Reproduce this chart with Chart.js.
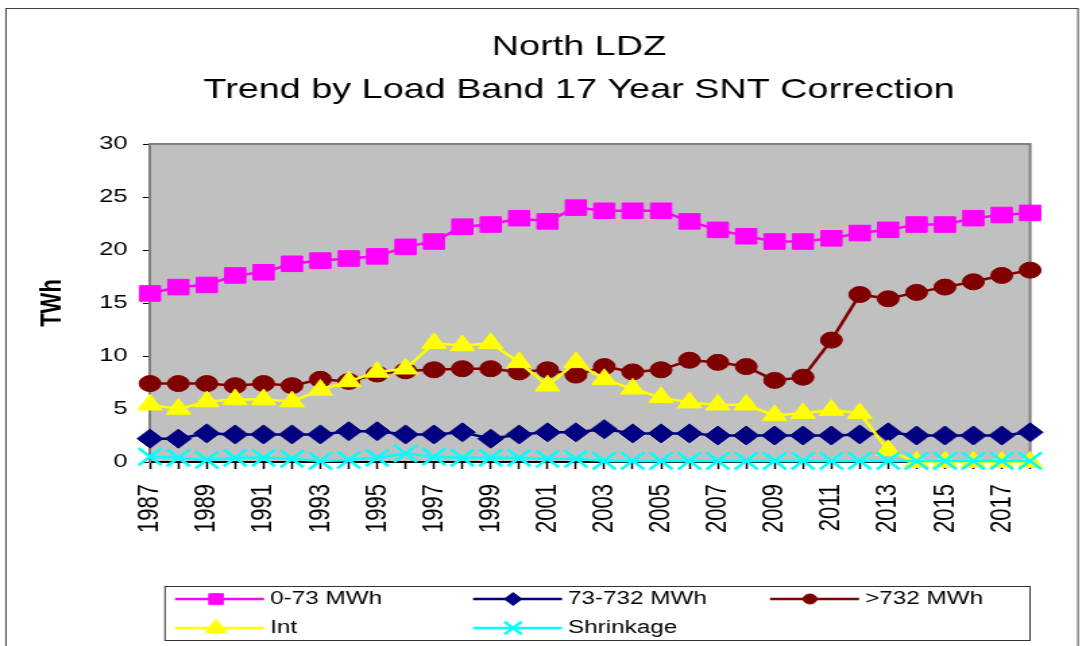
<!DOCTYPE html>
<html>
<head>
<meta charset="utf-8">
<script src="https://cdn.jsdelivr.net/npm/chart.js@4.4.1/dist/chart.umd.min.js"></script>
<style>
html, body { margin: 0; padding: 0; background: #fff; overflow: hidden; }
#c { display: block; }
</style>
</head>
<body>
<canvas id="c" width="805" height="646" style="width:1086px;height:646px;"></canvas>
<script>
// ---- data ----
const years = [1987,1988,1989,1990,1991,1992,1993,1994,1995,1996,1997,1998,1999,2000,2001,2002,
               2003,2004,2005,2006,2007,2008,2009,2010,2011,2012,2013,2014,2015,2016,2017,2018];
const yearTickLabels = ['1987','','1989','','1991','','1993','','1995','','1997','','1999','','2001','',
                        '2003','','2005','','2007','','2009','','2011','','2013','','2015','','2017',''];
const band0to73 = [15.9,16.5,16.7,17.6,17.9,18.7,19.0,19.2,19.4,20.3,20.8,22.2,22.4,23.0,22.7,24.0,
                   23.7,23.7,23.7,22.7,21.9,21.3,20.8,20.8,21.1,21.6,21.9,22.4,22.4,23.0,23.3,23.5];
const band73to732 = [2.2,2.2,2.7,2.6,2.6,2.6,2.6,2.9,2.9,2.6,2.6,2.8,2.2,2.6,2.8,2.8,
                     3.1,2.7,2.7,2.7,2.5,2.5,2.5,2.5,2.5,2.6,2.8,2.5,2.5,2.5,2.5,2.8];
const bandOver732 = [7.4,7.4,7.4,7.2,7.4,7.2,7.8,7.6,8.3,8.6,8.7,8.8,8.8,8.5,8.7,8.2,
                     9.0,8.5,8.7,9.6,9.4,9.0,7.7,8.0,11.5,15.8,15.4,16.0,16.5,17.0,17.6,18.1];
const intBand = [5.4,5.0,5.7,5.9,5.9,5.7,6.8,7.6,8.5,8.8,11.2,11.0,11.2,9.4,7.2,9.4,
                 7.8,6.9,6.1,5.6,5.4,5.4,4.4,4.6,4.9,4.6,1.1,0,0,0,0,0];
const shrinkage = [0.5,0.4,0.2,0.4,0.4,0.3,0.1,0.2,0.4,0.8,0.5,0.4,0.4,0.4,0.3,0.3,
                   0.1,0.1,0.1,0.1,0.1,0.1,0.1,0.1,0.1,0.1,0.1,0.1,0.1,0.1,0.1,0.1];
const yTicks = { min: 0, max: 30, step: 5 };
const titleLines = ['North LDZ', 'Trend by Load Band 17 Year SNT Correction'];
const yTitle = 'TWh';

// ---- layout helpers (canvas is stretched horizontally to 1086 px on screen) ----
const S = 1086 / 805;
const X = v => v / S;
const FONT = '"Liberation Sans", Arial, Helvetica, sans-serif';

const plotFrame = {
  id: 'plotFrame',
  beforeDraw(chart) {
    const { ctx, chartArea: a } = chart;
    ctx.save();
    ctx.strokeStyle = '#404040';
    ctx.lineWidth = 1;
    ctx.strokeRect(X(6), 8.5, X(1078) - X(6), 700);
    ctx.fillStyle = '#C0C0C0';
    ctx.fillRect(a.left, a.top, a.right - a.left, a.bottom - a.top);
    ctx.strokeStyle = '#808080';
    ctx.lineWidth = 2;
    ctx.beginPath();
    ctx.moveTo(a.left, a.top);
    ctx.lineTo(a.right, a.top);
    ctx.lineTo(a.right, a.bottom);
    ctx.stroke();
    ctx.restore();
  }
};

const chartTitle = {
  id: 'chartTitle',
  afterDraw(chart, args, o) {
    const ctx = chart.ctx;
    ctx.save();
    ctx.fillStyle = '#000';
    ctx.font = o.size + 'px ' + FONT;
    ctx.textAlign = 'center';
    ctx.textBaseline = 'middle';
    o.lines.forEach((t, i) => ctx.fillText(t, o.x, o.y + i * o.lineGap));
    ctx.restore();
  }
};

const lineLegend = {
  id: 'lineLegend',
  afterDraw(chart, args, o) {
    const ctx = chart.ctx;
    ctx.save();
    ctx.strokeStyle = '#333';
    ctx.lineWidth = 1;
    ctx.strokeRect(o.left, o.top, o.right - o.left, o.bottom - o.top);
    ctx.font = '18px ' + FONT;
    ctx.textBaseline = 'middle';
    ctx.textAlign = 'left';
    o.items.forEach(it => {
      const ds = chart.data.datasets[it.index];
      ctx.strokeStyle = ds.borderColor;
      ctx.lineWidth = 2.5;
      ctx.beginPath();
      ctx.moveTo(it.x, it.y);
      ctx.lineTo(it.x + o.lineLen, it.y);
      ctx.stroke();
      ctx.fillStyle = ds.pointBackgroundColor;
      ctx.strokeStyle = ds.pointBorderColor;
      ctx.lineWidth = ds.pointBorderWidth;
      Chart.helpers.drawPoint(ctx, { pointStyle: ds.pointStyle, radius: it.r, rotation: 0, borderWidth: ds.pointBorderWidth }, it.mx, it.y);
      ctx.fillStyle = '#000';
      ctx.fillText(ds.label, it.x + o.lineLen + o.gap, it.y);
    });
    ctx.restore();
  }
};

function series(label, data, color, style, radius, pbw, order) {
  return {
    label, data,
    borderColor: color, backgroundColor: color,
    borderWidth: 2.5,
    pointStyle: style, pointRadius: radius, pointHoverRadius: radius,
    pointBackgroundColor: color, pointBorderColor: color, pointBorderWidth: pbw,
    tension: 0, clip: false, order
  };
}

new Chart(document.getElementById('c'), {
  type: 'line',
  data: {
    labels: years,
    datasets: [
      series('0-73 MWh', band0to73, '#FF00FF', 'rect', 11, 1, 5),
      series('73-732 MWh', band73to732, '#000080', 'rectRot', 9.5, 1, 4),
      series('>732 MWh', bandOver732, '#800000', 'circle', 8, 1, 3),
      series('Int', intBand, '#FFFF00', 'triangle', 10.5, 1, 2),
      series('Shrinkage', shrinkage, '#00FFFF', 'crossRot', 12, 2.5, 1)
    ]
  },
  options: {
    responsive: false,
    animation: false,
    devicePixelRatio: 1,
    events: [],
    layout: { padding: { left: 0, right: 35.6, top: 144, bottom: 0 } },
    plugins: {
      legend: { display: false },
      tooltip: { enabled: false },
      title: { display: false },
      chartTitle: { lines: titleLines, x: X(579), y: 47.5, lineGap: 42.5, size: 28 },
      lineLegend: {
        left: X(165), right: X(1030), top: 586.5, bottom: 640.5,
        lineLen: X(264) - X(175), gap: X(6),
        items: [
          { index: 0, x: X(175), mx: X(216), y: 599, r: 7.5 },
          { index: 1, x: X(473), mx: X(513), y: 599, r: 6.5 },
          { index: 2, x: X(770), mx: X(810), y: 599, r: 5 },
          { index: 3, x: X(175), mx: X(216), y: 628, r: 9 },
          { index: 4, x: X(473), mx: X(513), y: 628, r: 9 }
        ]
      }
    },
    scales: {
      x: {
        type: 'category',
        offset: false,
        grid: { display: true, drawOnChartArea: false, drawTicks: true, tickLength: 7, tickColor: '#000', tickWidth: 1.5 },
        border: { display: true, color: '#000', width: 2 },
        ticks: {
          autoSkip: false, maxRotation: 90, minRotation: 90, padding: 15, color: '#000',
          font: { family: FONT, size: 22 },
          callback: (v, i) => yearTickLabels[i]
        },
        afterFit: s => { s.height = 184; }
      },
      y: {
        min: yTicks.min, max: yTicks.max,
        ticks: { stepSize: yTicks.step, padding: 11.3, color: '#000', font: { family: FONT, size: 19 } },
        grid: { display: true, drawOnChartArea: false, drawTicks: true, tickLength: 5.2, tickColor: '#000', tickWidth: 1 },
        border: { display: true, color: '#808080', width: 2 },
        title: {
          display: true, text: yTitle, color: '#000',
          font: { family: FONT, size: 22, weight: 'bold' },
          padding: { top: 25.7, bottom: 0 }
        },
        afterFit: s => { s.width = X(150); }
      }
    }
  },
  plugins: [plotFrame, chartTitle, lineLegend]
});
</script>
</body>
</html>
